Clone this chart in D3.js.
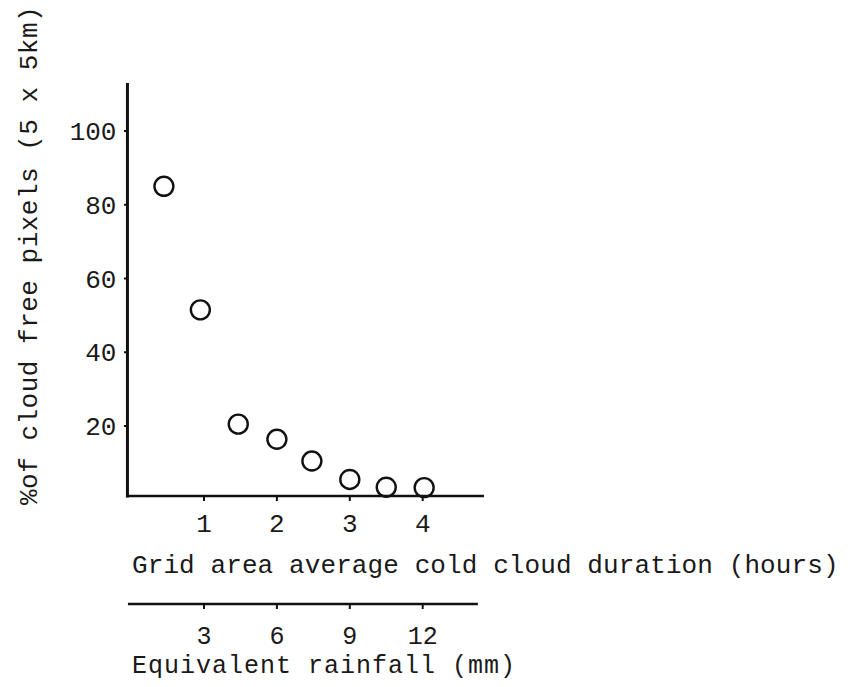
<!DOCTYPE html>
<html>
<head>
<meta charset="utf-8">
<script src="https://cdn.jsdelivr.net/npm/d3@7"></script>
<style>
  html, body { margin: 0; padding: 0; background: #fff; }
  svg { display: block; }
  text { font-family: "Liberation Mono", "DejaVu Sans Mono", monospace; fill: #1a1a1a; }
</style>
</head>
<body>
<svg id="chart" width="850" height="687"></svg>
<script>
// Data
const hours   = [0.45, 0.95, 1.47, 2.0, 2.48, 3.0, 3.5, 4.02];
const cloudFree = [85, 51.5, 20.5, 16.4, 10.5, 5.5, 3.4, 3.3];
const xTicks = [1, 2, 3, 4];
const yTicks = [20, 40, 60, 80, 100];
const rainTicks = [3, 6, 9, 12];
const yLabel = "%of cloud free pixels (5 x 5km)";
const xLabel = "Grid area average cold cloud duration (hours)";
const rainLabel = "Equivalent rainfall (mm)";

const svg = d3.select("#chart");

const x = d3.scaleLinear().domain([0, 4]).range([131.1, 422.7]);
const y = d3.scaleLinear().domain([0, 100]).range([499.75, 131]);
const xRain = d3.scaleLinear().domain([0, 12]).range([131.1, 422.7]);

const xMin = -0.05, xMax = 4.84, yTop = 113, yBase = 1;
const rainMin = -0.13, rainMax = 14.27;

// points (drawn first so axis overlays them)
svg.append("g").selectAll("circle")
  .data(hours.map((h, i) => ({h, v: cloudFree[i]})))
  .join("circle")
  .attr("cx", d => x(d.h))
  .attr("cy", d => y(d.v))
  .attr("r", 9.5)
  .attr("fill", "#fff")
  .attr("stroke", "#111")
  .attr("stroke-width", 2.4);

// y axis
const yAxisG = svg.append("g");
yAxisG.append("line")
  .attr("x1", x(xMin)).attr("x2", x(xMin))
  .attr("y1", y(yTop)).attr("y2", y(yBase) + 1.5)
  .attr("stroke", "#111").attr("stroke-width", 3);
yAxisG.selectAll("line.tick").data(yTicks).join("line")
  .attr("class", "tick")
  .attr("x1", x(xMin) - 3.5).attr("x2", x(xMin))
  .attr("y1", d => y(d)).attr("y2", d => y(d))
  .attr("stroke", "#111").attr("stroke-width", 2);
yAxisG.selectAll("text").data(yTicks).join("text")
  .attr("x", x(xMin) - 11)
  .attr("y", d => y(d))
  .attr("dy", "0.35em")
  .attr("text-anchor", "end")
  .attr("font-size", 26)
  .text(d => d);

// x axis (hours)
const xAxisG = svg.append("g");
xAxisG.append("line")
  .attr("x1", x(xMin) - 1.5).attr("x2", x(xMax))
  .attr("y1", y(yBase)).attr("y2", y(yBase))
  .attr("stroke", "#111").attr("stroke-width", 2.6);
xAxisG.selectAll("line.tick").data(xTicks).join("line")
  .attr("class", "tick")
  .attr("x1", d => x(d)).attr("x2", d => x(d))
  .attr("y1", y(yBase)).attr("y2", y(yBase) + 5)
  .attr("stroke", "#111").attr("stroke-width", 2);
xAxisG.selectAll("text").data(xTicks).join("text")
  .attr("x", d => x(d))
  .attr("y", 532)
  .attr("text-anchor", "middle")
  .attr("font-size", 26)
  .text(d => d);

svg.append("text")
  .attr("x", 132).attr("y", 573)
  .attr("font-size", 26)
  .attr("letter-spacing", 0.1)
  .text(xLabel);

// rainfall axis
const rainG = svg.append("g");
rainG.append("line")
  .attr("x1", xRain(rainMin)).attr("x2", xRain(rainMax))
  .attr("y1", 604).attr("y2", 604)
  .attr("stroke", "#111").attr("stroke-width", 2.6);
rainG.selectAll("line.tick").data(rainTicks).join("line")
  .attr("class", "tick")
  .attr("x1", d => xRain(d)).attr("x2", d => xRain(d))
  .attr("y1", 604).attr("y2", 609)
  .attr("stroke", "#111").attr("stroke-width", 2);
rainG.selectAll("text").data(rainTicks).join("text")
  .attr("x", d => xRain(d))
  .attr("y", 644)
  .attr("text-anchor", "middle")
  .attr("font-size", 25)
  .text(d => d);

svg.append("text")
  .attr("x", 132).attr("y", 673)
  .attr("font-size", 25)
  .attr("letter-spacing", 1)
  .text(rainLabel);

// y label
svg.append("text")
  .attr("transform", "translate(37,505) rotate(-90)")
  .attr("font-size", 26)
  .attr("letter-spacing", 0.5)
  .text(yLabel);
</script>
</body>
</html>
